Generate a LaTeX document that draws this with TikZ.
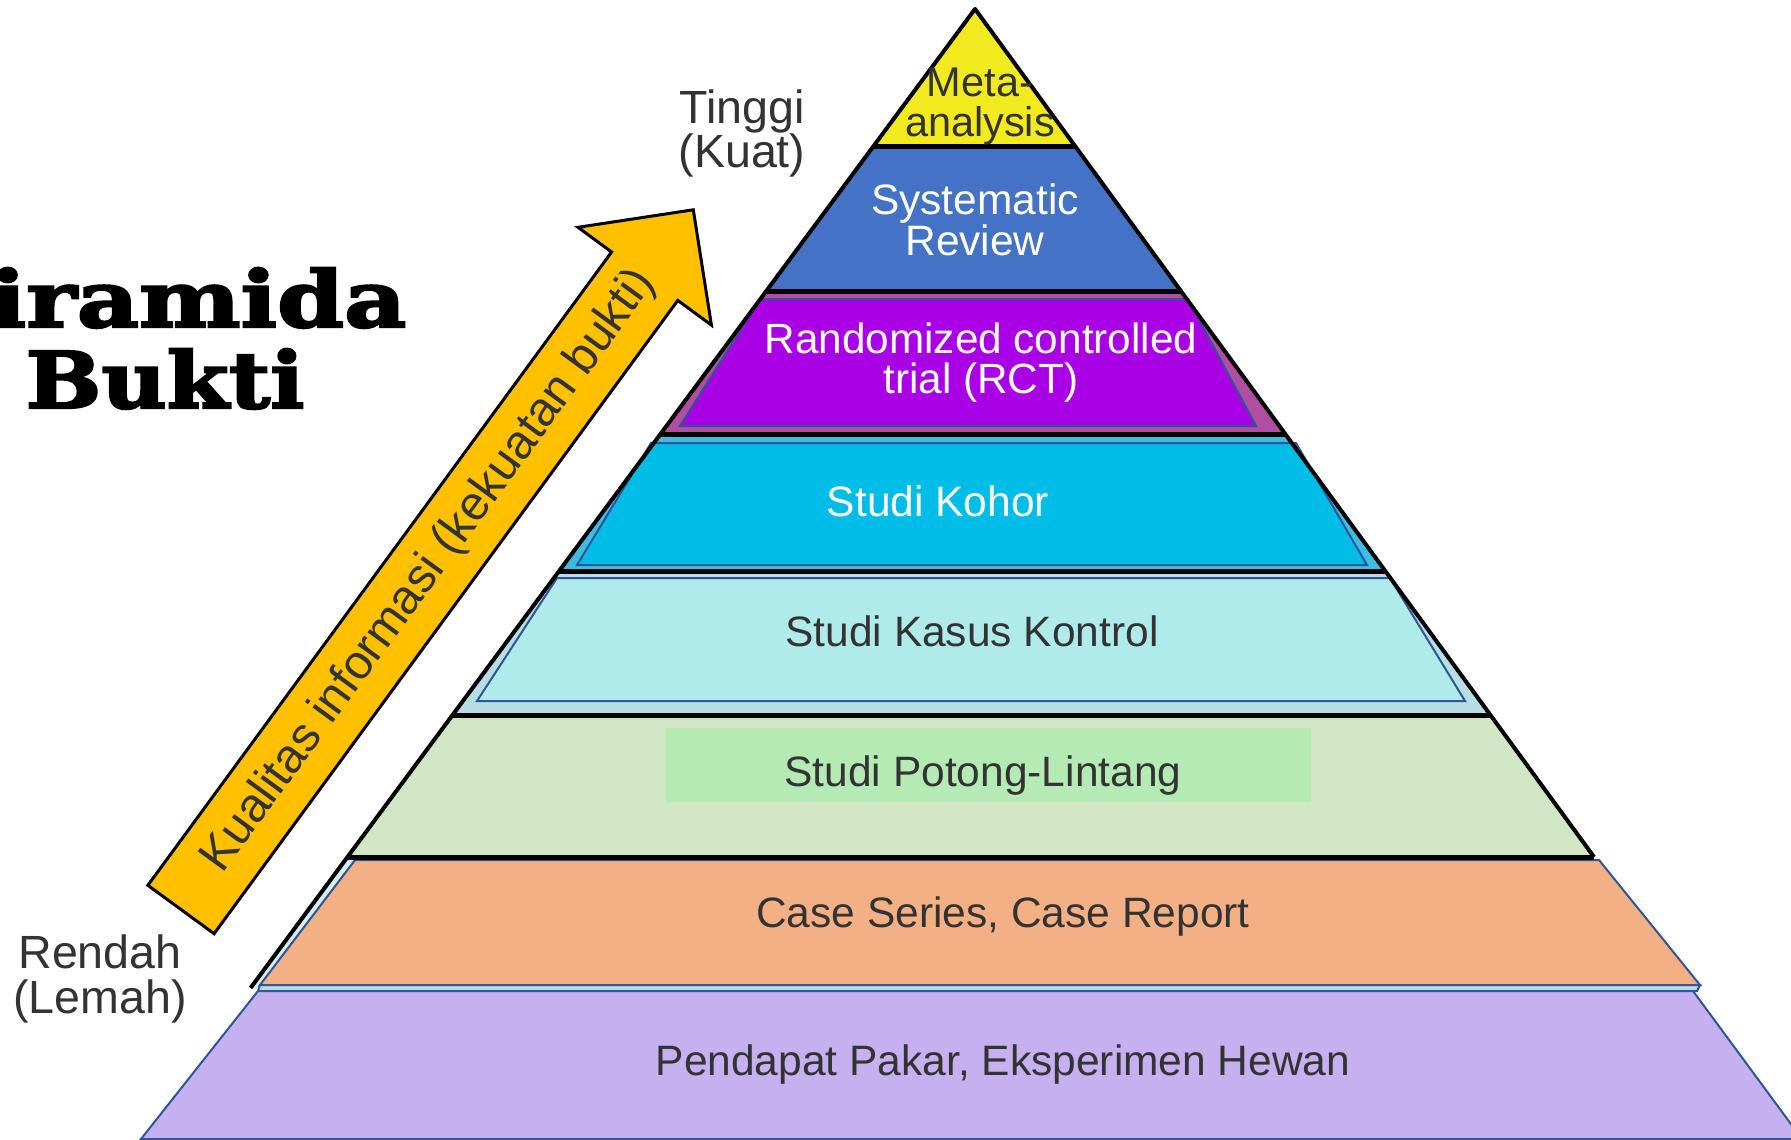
\documentclass[tikz,border=0pt]{standalone}
\usepackage{fontspec}
\setmainfont{Liberation Sans}
\newfontfamily\slabfont[FakeBold=3,FakeStretch=1.15]{DejaVu Serif}
\usepackage{xcolor}

\definecolor{metayellow}{HTML}{F0EA1E}
\definecolor{srblue}{HTML}{4472C4}
\definecolor{rctouter}{HTML}{B04EA2}
\definecolor{rctpurple}{HTML}{AA00E6}
\definecolor{kohorouter}{HTML}{3DBDE2}
\definecolor{kohorcyan}{HTML}{00BDE8}
\definecolor{kasusouter}{HTML}{B6DEE4}
\definecolor{kasuscyan}{HTML}{AEEBEA}
\definecolor{potonggreen}{HTML}{D1E6C5}
\definecolor{potonginner}{HTML}{B4EAB4}
\definecolor{caseouter}{HTML}{D6ECEF}
\definecolor{casesalmon}{HTML}{F2B084}
\definecolor{stripblue}{HTML}{B4DCE4}
\definecolor{pakarlilac}{HTML}{C5B0F0}
\definecolor{bandblue}{HTML}{2F5597}
\definecolor{labelgray}{HTML}{333333}
\definecolor{arrowgold}{HTML}{FFC000}

\begin{document}
\begin{tikzpicture}[x=0.5pt, y=-0.5pt,
    sepline/.style={line width=2.5pt, black},
    edgeline/.style={line width=2pt, black, line join=round},
    inband/.style={draw=bandblue, line width=1pt},
    lbl/.style={font=\fontsize{21.25}{20.5}\selectfont, text=labelgray, align=center, inner sep=0pt},
    wlbl/.style={lbl, text=white},
    sidelbl/.style={font=\fontsize{23.3}{22}\selectfont, text=labelgray, align=center, inner sep=0pt},
    titlelbl/.style={font=\slabfont\bfseries\fontsize{39}{39}\selectfont, inner sep=0pt}]

\fill[white] (0,0) rectangle (1791,1139);
\useasboundingbox (0,0) rectangle (1791,1139);
\clip (0,0) rectangle (1791,1139);

% outer bands of the pyramid
\fill[metayellow] (975,9) -- ({975+0.73*138},147) -- ({975-0.74*138},147) -- cycle;
\foreach \ya/\yb/\col in {147/291/srblue, 291/434/rctouter, 434/571/kohorouter,
    571/715/kasusouter, 715/857/potonggreen, 857/988/caseouter}
  \fill[\col] ({975-0.74*(\ya-9)},\ya) -- ({975+0.73*(\ya-9)},\ya)
    -- ({975+0.73*(\yb-9)},\yb) -- ({975-0.74*(\yb-9)},\yb) -- cycle;

% inner bands
\draw[inband, fill=rctpurple] (760,299) -- (1188,299) -- (1256,426) -- (680,426) -- cycle;
\draw[inband, fill=kohorcyan] (651,443) -- (1296,443) -- (1367,565) -- (577,565) -- cycle;
\draw[inband, fill=kasuscyan] (557,578) -- (1390,578) -- (1465,701) -- (477,701) -- cycle;
\fill[potonginner] (666,728) rectangle (1311,802);
\draw[inband, fill=casesalmon] (355,860) -- (1599,860) -- (1700,985) -- (260,985) -- cycle;
\draw[inband, fill=stripblue] (260,985) -- (1700,985) -- (1697,991) -- (258,991) -- cycle;
\draw[inband, fill=pakarlilac] (258,991) -- (1693,991) -- (1802,1139) -- (141,1139) -- cycle;

% outline and separators
\draw[edgeline] ({975-0.74*979},988) -- (975,9) -- ({975+0.73*848},857);
\foreach \y in {147,291,434,571,715,857}
  \draw[sepline] ({975-0.74*(\y-9)},\y) -- ({975+0.73*(\y-9)},\y);

% labels
\node[lbl, font=\fontsize{20.75}{19.7}\selectfont] (meta) at (980,106.5) {Meta-\\analysis};
\node[wlbl] (sysrev) at (975,220) {Systematic\\Review};
\node[wlbl, font=\fontsize{21.15}{20}\selectfont] (rct) at (981,363) {Randomized controlled\\trial (RCT)};
\node[wlbl, anchor=base] (kohor) at (938,516) {Studi Kohor};
\node[lbl, anchor=base] (kasus) at (972,646) {Studi Kasus Kontrol};
\node[lbl, anchor=base] (potong) at (983,786) {Studi Potong-Lintang};
\node[lbl, anchor=base] (caserep) at (1003,927) {Case Series, Case Report};
\node[lbl, anchor=base] (pakar) at (1003,1075) {Pendapat Pakar, Eksperimen Hewan};

\node[sidelbl] (tinggi) at (742,133) {Tinggi\\(Kuat)};
\node[sidelbl, font=\fontsize{23.3}{22.5}\selectfont] (rendah) at (100,979) {Rendah\\(Lemah)};

% quality arrow
\draw[line width=1.5pt, fill=arrowgold] (147.9,885.3) -- (611.6,252.0) -- (578.0,227.3)
  -- (693.3,209.8) -- (711.4,325.1) -- (677.8,300.4) -- (214.1,933.7) -- cycle;
\node[sidelbl, font=\fontsize{24}{22}\selectfont, rotate=53.8] (quality) at (429,571)
  {Kualitas informasi (kekuatan bukti)};

% title
\node[titlelbl, anchor=base, xscale=1.07] (title) at (162,327) {Piramida};
\node[titlelbl, anchor=base] (titleb) at (165,408) {Bukti};
\end{tikzpicture}
\end{document}
